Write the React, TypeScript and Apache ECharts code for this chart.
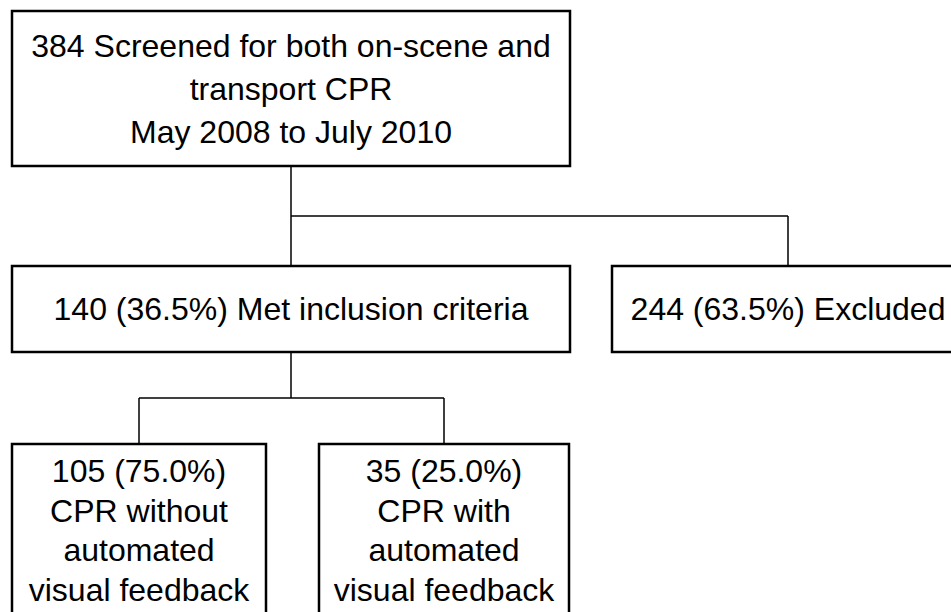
import React, { useEffect, useRef } from "react";
import * as echarts from "echarts";

// Flowchart content
const boxIds = ["screened", "included", "excluded", "without", "with"];
const boxLabels = [
  "384 Screened for both on-scene and\ntransport CPR\nMay 2008 to July 2010",
  "140 (36.5%) Met inclusion criteria",
  "244 (63.5%) Excluded",
  "105 (75.0%)\nCPR without\nautomated\nvisual feedback",
  "35 (25.0%)\nCPR with\nautomated\nvisual feedback",
];
const boxCounts = [384, 140, 244, 105, 35];
const parentOf = [-1, 0, 0, 1, 1];

// Layout (pixels)
const boxRects = [
  { x: 12, y: 11, w: 558, h: 155, lh: 43, ty: 0 },
  { x: 12, y: 266, w: 558, h: 86, lh: 40, ty: 0 },
  { x: 612, y: 266, w: 352, h: 86, lh: 40, ty: 0 },
  { x: 12, y: 444, w: 254, h: 220, lh: 39.7, ty: 471 },
  { x: 319, y: 444, w: 250, h: 220, lh: 39.7, ty: 471 },
];
const childAnchorX = [291, 291, 788, 139, 444];
const busY = [0, 216, 216, 398, 398];

const FONT = "'Liberation Sans', Arial, Helvetica, sans-serif";
const FS = 32;
const SX = 1;

export default function App() {
  const ref = useRef<HTMLDivElement>(null);
  useEffect(() => {
    if (!ref.current) return;
    const chart = echarts.init(ref.current, null, { renderer: "svg" });
    const elements: any[] = [];
    boxRects.forEach((b, i) => {
      elements.push({
        type: "rect",
        id: "box-" + boxIds[i],
        shape: { x: b.x, y: b.y, width: b.w, height: b.h },
        style: { fill: "#fff", stroke: "#000", lineWidth: 2.5 },
        z: 2,
      });
      const lines = boxLabels[i].split("\n");
      const cx = b.x + b.w / 2;
      const firstY = b.ty ? b.ty : b.y + b.h / 2 - ((lines.length - 1) * b.lh) / 2;
      lines.forEach((ln, k) => {
        elements.push({
          type: "text",
          x: i === 2 ? childAnchorX[2] : cx,
          y: firstY + k * b.lh,
          scaleX: SX,
          z: 3,
          style: {
            text: ln,
            fontFamily: FONT,
            fontSize: FS,
            fill: "#000",
            textAlign: "center",
            textVerticalAlign: "middle",
          },
        });
      });
    });
    // connectors
    const lineStyle = { stroke: "#000", lineWidth: 1.5 };
    const parents = Array.from(new Set(parentOf.filter((p) => p >= 0)));
    parents.forEach((p) => {
      const kids = parentOf.map((q, i) => (q === p ? i : -1)).filter((i) => i >= 0);
      const pb = boxRects[p];
      const px = childAnchorX[p];
      const by = busY[kids[0]];
      elements.push({
        type: "line",
        shape: { x1: px, y1: pb.y + pb.h, x2: px, y2: by },
        style: lineStyle,
        z: 1,
      });
      const xs = kids.map((k) => childAnchorX[k]);
      elements.push({
        type: "line",
        shape: { x1: Math.min(px, ...xs), y1: by, x2: Math.max(px, ...xs), y2: by },
        style: lineStyle,
        z: 1,
      });
      kids.forEach((k) => {
        elements.push({
          type: "line",
          shape: { x1: childAnchorX[k], y1: by, x2: childAnchorX[k], y2: boxRects[k].y },
          style: lineStyle,
          z: 1,
        });
      });
    });
    chart.setOption({
      animation: false,
      backgroundColor: "#fff",
      title: { show: false, text: "CPR flow: " + boxCounts.join(", ") },
      graphic: elements,
    });
    return () => chart.dispose();
  }, []);
  return (
    <div
      ref={ref}
      style={{ position: "fixed", left: 0, top: 0, width: 951, height: 612, background: "#fff" }}
    />
  );
}
